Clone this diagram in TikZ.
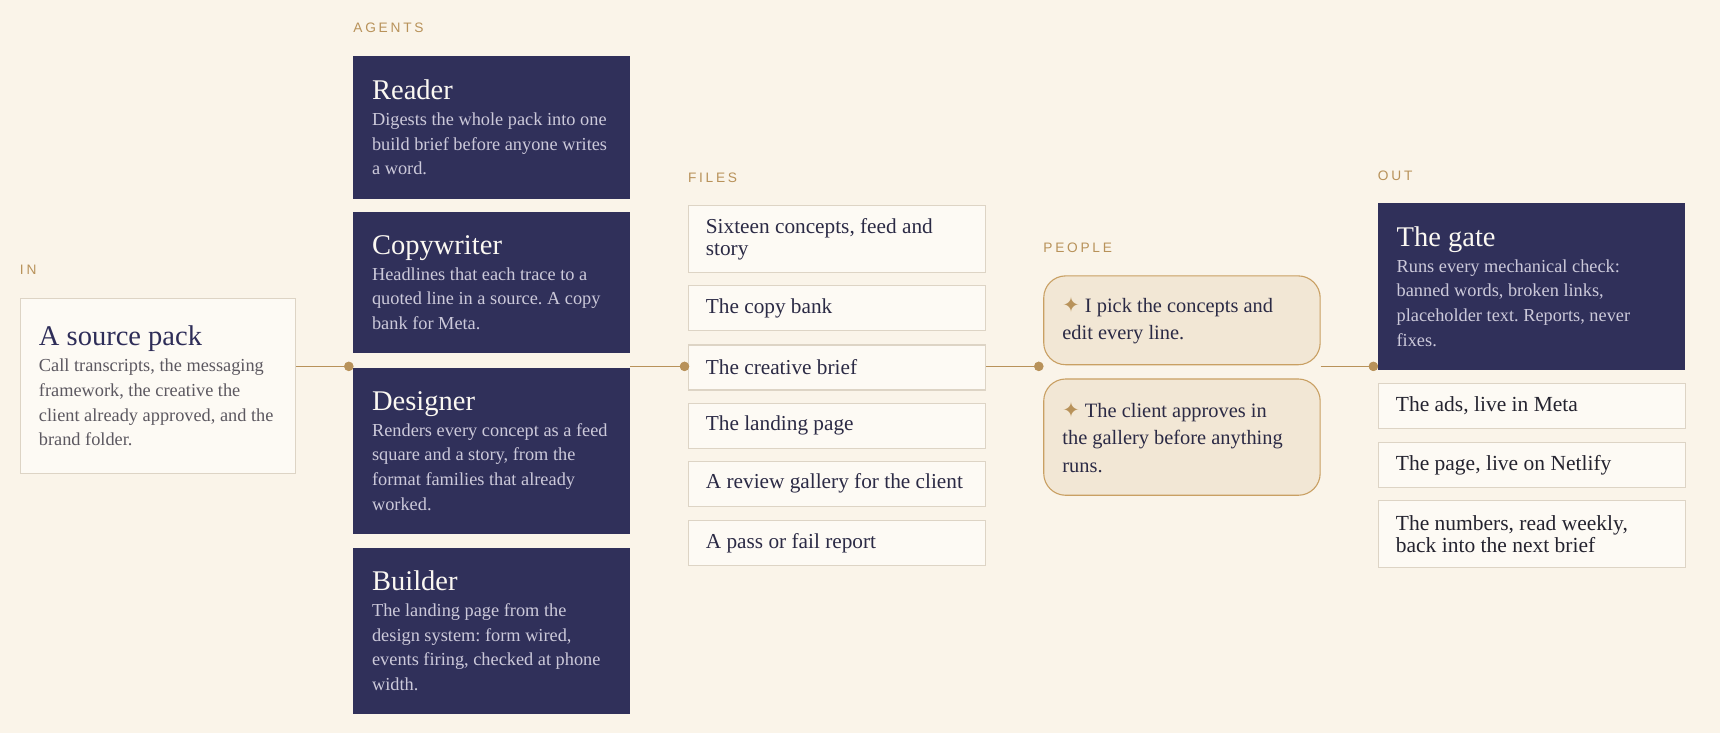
\documentclass[tikz,border=0pt]{standalone}
\usepackage{fontspec}
\setmainfont{Liberation Serif}
\newfontfamily\labelfont[LetterSpace=20]{Liberation Sans}
\newfontfamily\symfont{DejaVu Sans}
\usetikzlibrary{calc}
\frenchspacing
\definecolor{bg}{HTML}{FAF4E9}
\definecolor{navy}{HTML}{30305A}
\definecolor{gold}{HTML}{B8925A}
\definecolor{filefill}{HTML}{FDFAF4}
\definecolor{fileline}{HTML}{DDD4C5}
\definecolor{peoplefill}{HTML}{F2E7D5}
\definecolor{peopleline}{HTML}{C9A063}
\definecolor{ink}{HTML}{2B2A45}
\definecolor{outink}{HTML}{24232F}
\definecolor{navyink}{HTML}{2E2D58}
\definecolor{grayink}{HTML}{5C5860}
\definecolor{lav}{HTML}{CCC9DA}
\definecolor{offwhite}{HTML}{FBF8F2}
\newcommand\nsp{\frenchspacing\spaceskip=0pt\relax\xspaceskip=0pt\relax}
\newcommand\ttlfont{\fontsize{26}{28}\selectfont}
\newcommand\bdyfont{\fontsize{16.7}{22.5}\selectfont}
\newcommand\filefont{\fontsize{19.4}{20.5}\selectfont}
\newcommand\pplfont{\fontsize{18.6}{25}\selectfont}
\newcommand\outfont{\fontsize{19.6}{20.5}\selectfont}
\newcommand\lblfont{\labelfont\fontsize{12.5}{14}\selectfont}
\newcommand\spark{{\symfont\fontsize{19}{19}\selectfont\color{gold}✦}}
\begin{document}
\begin{tikzpicture}[x=1pt,y=-1pt,
  lbl/.style={anchor=west, inner sep=0pt, text=gold, font=\lblfont},
  agent/.style={anchor=north west, fill=navy, draw=none, minimum width=252pt,
    text width=218pt, inner xsep=17pt, inner ysep=0pt, align=left},
  srcbox/.style={anchor=north west, fill=filefill, draw=fileline, line width=1pt,
    minimum width=251pt, text width=217pt, inner xsep=17pt, inner ysep=0pt, align=left},
  filebox/.style={anchor=north west, fill=filefill, draw=fileline, line width=1pt,
    minimum width=271pt, text width=239pt, inner xsep=16pt, inner ysep=0pt, align=left,
    text=ink, font=\filefont},
  pplbox/.style={anchor=north west, fill=peoplefill, draw=peopleline, line width=1pt,
    rounded corners=20pt, minimum width=252pt, text width=218pt, inner xsep=17pt,
    inner ysep=0pt, align=left, text=ink, font=\pplfont},
  gatebox/.style={anchor=north west, fill=navy, draw=none, minimum width=280pt,
    text width=246pt, inner xsep=17pt, inner ysep=0pt, align=left},
  outbox/.style={anchor=north west, fill=filefill, draw=fileline, line width=1pt,
    minimum width=280pt, text width=248pt, inner xsep=16pt, inner ysep=0pt, align=left,
    text=outink, font=\outfont},
  link/.style={draw=gold, line width=1.5pt},
  dot/.style={circle, fill=gold, inner sep=0pt, minimum size=8.5pt}
]
\fill[bg] (0,0) rectangle (1568,668.22);
\useasboundingbox (0,0) rectangle (1568,668.22);

% labels
\node[lbl] (lin) at (18,246) {IN};
\node[lbl] (lagents) at (322,25) {AGENTS};
\node[lbl] (lfiles) at (627,162) {FILES};
\node[lbl] (lpeople) at (951,226) {PEOPLE};
\node[lbl] (lout) at (1256,160) {OUT};

% source
\node[srcbox, minimum height=159pt] (src) at (18,272)
  {{\ttlfont\nsp\color{navyink}A source pack\par}\vspace{1pt}
   {\bdyfont\nsp\color{grayink}Call transcripts, the messaging\newline framework, the creative the\newline client already approved, and the\newline brand folder.\par}};

% agents
\node[agent, minimum height=130pt] (reader) at (322,51)
  {{\ttlfont\nsp\color{offwhite}Reader\par}\vspace{1pt}
   {\bdyfont\nsp\color{lav}Digests the whole pack into one\newline build brief before anyone writes\newline a word.\par}};
\node[agent, minimum height=129pt] (copy) at (322,193)
  {{\ttlfont\nsp\color{offwhite}Copywriter\par}\vspace{1pt}
   {\bdyfont\nsp\color{lav}Headlines that each trace to a\newline quoted line in a source. A copy\newline bank for Meta.\par}};
\node[agent, minimum height=152pt] (designer) at (322,335)
  {{\ttlfont\nsp\color{offwhite}Designer\par}\vspace{1pt}
   {\bdyfont\nsp\color{lav}Renders every concept as a feed\newline square and a story, from the\newline format families that already\newline worked.\par}};
\node[agent, minimum height=152pt] (builder) at (322,499)
  {{\ttlfont\nsp\color{offwhite}Builder\par}\vspace{1pt}
   {\bdyfont\nsp\color{lav}The landing page from the\newline design system: form wired,\newline events firing, checked at phone\newline width.\par}};

% files
\node[filebox, minimum height=61pt] (f1) at (627,187) {\nsp Sixteen concepts, feed and\newline story};
\node[filebox, minimum height=41pt] (f2) at (627,260) {\nsp The copy bank};
\node[filebox, minimum height=41pt] (f3) at (627,314) {\nsp The creative brief};
\node[filebox, minimum height=41pt] (f4) at (627,367) {\nsp The landing page};
\node[filebox, minimum height=41pt] (f5) at (627,420) {\nsp A review gallery for the client};
\node[filebox, minimum height=41pt] (f6) at (627,474) {\nsp A pass or fail report};

% people
\node[pplbox, minimum height=81pt] (p1) at (951,251) {\nsp\spark\ I pick the concepts and\newline edit every line.};
\node[pplbox, minimum height=106pt] (p2) at (951,345) {\nsp\spark\ The client approves in\newline the gallery before anything\newline runs.};

% out
\node[gatebox, minimum height=152pt] (gate) at (1256,185)
  {{\ttlfont\nsp\color{offwhite}The gate\par}\vspace{1pt}
   {\bdyfont\nsp\color{lav}Runs every mechanical check:\newline banned words, broken links,\newline placeholder text. Reports, never\newline fixes.\par}};
\node[outbox, minimum height=41pt] (o1) at (1256,349) {\nsp The ads, live in Meta};
\node[outbox, minimum height=41pt] (o2) at (1256,403) {\nsp The page, live on Netlify};
\node[outbox, minimum height=61pt] (o3) at (1256,456) {\nsp The numbers, read weekly,\newline back into the next brief};

% spine
\coordinate (spine) at (0,334);
\node[dot] (d1) at (318,334) {};
\node[dot] (d2) at (624,334) {};
\node[dot] (d3) at (947,334) {};
\node[dot] (d4) at (1252,334) {};
\draw[link] (src.east |- spine) -- (d1.center);
\draw[link] (designer.east |- spine) -- (d2.center);
\draw[link] (f3.east |- spine) -- (d3.center);
\draw[link] (p1.east |- spine) -- (d4.center);
\node[dot] at (d1) {};
\node[dot] at (d2) {};
\node[dot] at (d3) {};
\node[dot] at (d4) {};
\end{tikzpicture}
\end{document}
